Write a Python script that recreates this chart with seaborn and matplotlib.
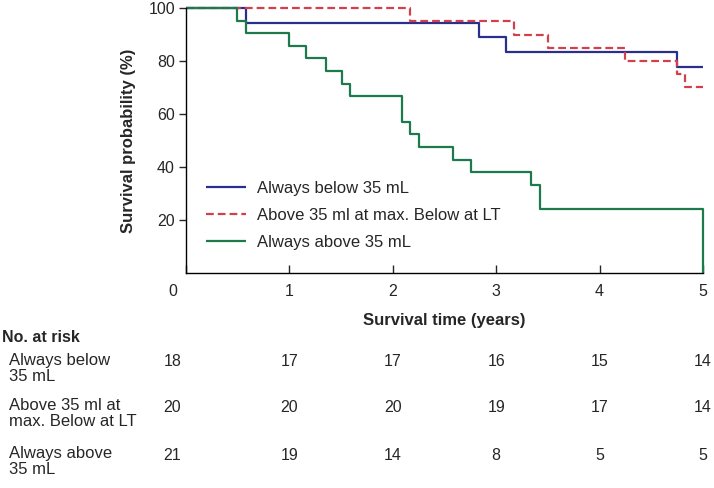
import pandas as pd
import seaborn as sns
import matplotlib.pyplot as plt
from matplotlib import transforms

# survival steps (time in years, survival in %)
groups = ["Always below 35 mL", "Above 35 ml at max. Below at LT", "Always above 35 mL"]

below_time = [0, 0.58, 2.83, 3.09, 4.75, 5.0]
below_surv = [100, 94.4, 88.9, 83.3, 77.8, 77.8]

mixed_time = [0, 2.17, 3.17, 3.50, 4.25, 4.75, 4.83, 5.0]
mixed_surv = [100, 95, 90, 85, 80, 75, 70, 70]

above_time = [0, 0.49, 0.58, 1.0, 1.16, 1.35, 1.51, 1.59, 2.09, 2.17, 2.25, 2.58, 2.76, 3.34, 3.42, 5.0]
above_surv = [100, 95.2, 90.5, 85.7, 81.0, 76.2, 71.4, 66.7, 57.1, 52.4, 47.6, 42.8, 38.0, 33.3, 24.2, 0]

# numbers at risk table
risk_times = [0, 1, 2, 3, 4, 5]
risk_labels = ["Always below\n35 mL", "Above 35 ml at\nmax. Below at LT", "Always above\n35 mL"]
risk_below = [18, 17, 17, 16, 15, 14]
risk_mixed = [20, 20, 20, 19, 17, 14]
risk_above = [21, 19, 14, 8, 5, 5]

colors = ["#2b2f8c", "#d2414a", "#1c7a4c"]

# long format for seaborn
rows = []
for g, ts, ss in zip(groups, [below_time, mixed_time, above_time], [below_surv, mixed_surv, above_surv]):
    for t, s in zip(ts, ss):
        rows.append({"time": t, "survival": s, "group": g})
df = pd.DataFrame(rows)

sns.set_style("ticks")
plt.rcParams["font.family"] = ["Liberation Sans", "DejaVu Sans"]

fig = plt.figure(figsize=(7.14, 4.88), dpi=100)
ax = fig.add_axes([0.2605, 0.4406, 0.7241, 0.543])

sns.lineplot(data=df, x="time", y="survival", hue="group", style="group",
             hue_order=groups, style_order=groups,
             palette=colors, dashes=[(1, 0), (3.5, 1.8), (1, 0)],
             drawstyle="steps-post", estimator=None, sort=False,
             linewidth=1.6, ax=ax, clip_on=False)

ax.set_xlim(0, 5)
ax.set_ylim(0, 100)
ax.set_xticks(risk_times)
ax.set_yticks([20, 40, 60, 80, 100])
sns.despine(ax=ax)
for sp in ["left", "bottom"]:
    ax.spines[sp].set_linewidth(1.0)
    ax.spines[sp].set_color("black")
ax.tick_params(axis="y", direction="out", length=5, width=1, labelsize=11.5, pad=3)
ax.tick_params(axis="x", direction="in", length=6, width=1, labelsize=11.5, pad=8)
# the origin label sits left of the corner
shift = transforms.ScaledTranslation(-13 / 100, 0, fig.dpi_scale_trans)
first = ax.get_xticklabels()[0]
first.set_transform(first.get_transform() + shift)

ax.set_xlabel("Survival time (years)", fontsize=12, fontweight="bold")
ax.set_ylabel("Survival probability (%)", fontsize=12, fontweight="bold")
ax.xaxis.set_label_coords(0.5, -0.15)
ax.yaxis.set_label_coords(-0.097, 0.5)

ax.legend(loc="upper left", bbox_to_anchor=(0.01, 0.405), frameon=False,
          fontsize=12, handlelength=2.4, handletextpad=0.65, labelspacing=0.72)

# at-risk table under the plot
trans = transforms.blended_transform_factory(ax.transData, fig.transFigure)
fig.text(0.003, 1 - 337 / 488, "No. at risk", fontsize=11.5, fontweight="bold", va="center")
row_y = [362, 407, 455]
for lab, counts, y in zip(risk_labels, [risk_below, risk_mixed, risk_above], row_y):
    fig.text(0.013, 1 - (y - 9) / 488, lab, fontsize=12, va="top", linespacing=1.05)
    for t, n in zip(risk_times, counts):
        xt = t - 0.13 if t == 0 else t
        ax.text(xt, 1 - y / 488, str(n), transform=trans, fontsize=11.5,
                ha="center", va="center")

fig.savefig("out.png", dpi=100)
